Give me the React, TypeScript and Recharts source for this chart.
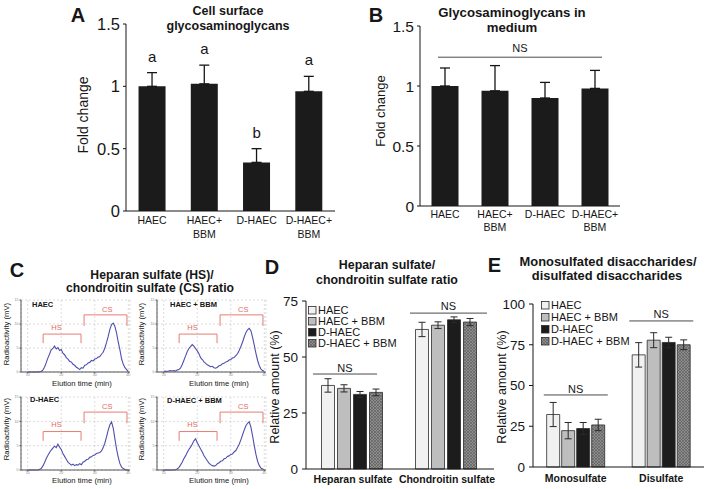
import React from 'react';
import {
  BarChart, Bar, LineChart, Line, XAxis, YAxis, CartesianGrid,
  ErrorBar, ReferenceLine, ReferenceDot,
} from 'recharts';

const FONT = "'Liberation Sans', Arial, Helvetica, sans-serif";
const INK = '#161616';
const RED = '#e46d63';

// A / B: fold change per cell group
const cellGroups = ['HAEC', 'HAEC+ BBM', 'D-HAEC', 'D-HAEC+ BBM'];
const surfaceFold = [1.0, 1.02, 0.39, 0.96];
const surfaceErr = [0.11, 0.15, 0.11, 0.12];
const surfaceLetters = ['a', 'a', 'b', 'a'];
const mediumFold = [1.0, 0.96, 0.9, 0.98];
const mediumErr = [0.15, 0.21, 0.13, 0.15];
const mediumNS = 1.24;
const foldTicks = [0, 0.5, 1, 1.5];

// C: elution profiles (min, mV)
const elutionTimes = [
  10, 10.5, 11, 11.5, 12, 12.5, 13, 13.5, 14, 14.5, 15, 15.5, 16, 16.5, 17, 17.5,
  18, 18.5, 19, 19.5, 20, 20.5, 21, 21.5, 22, 22.5, 23, 23.5, 24, 24.5, 25, 25.5,
  26, 26.5, 27, 27.5, 28, 28.5, 29, 29.5, 30, 30.5, 31, 31.5, 32, 32.5, 33, 33.5,
  34, 34.5, 35, 35.5, 36, 36.5, 37, 37.5, 38, 38.5, 39, 39.5, 40,
];
const haecTrace = [
  0, 0, 0, 0, 0, 0, 0, 0.05, 0.1, 0.4, 1.0, 1.9, 2.9, 3.7, 4.6, 4.9,
  5.4, 4.8, 5.1, 4.5, 4.7, 3.9, 3.6, 3.0, 2.7, 2.2, 2.1, 1.6, 1.4, 1.0, 0.8, 0.5,
  0.9, 0.8, 1.4, 1.5, 1.9, 2.0, 2.4, 2.3, 2.7, 2.8, 3.1, 3.2, 3.7, 4.1, 5.0, 6.1,
  7.4, 8.9, 9.9, 10.2, 9.5, 8.1, 6.2, 4.6, 2.7, 1.6, 0.9, 0.5, 0.1,
];
const haecBbmTrace = [
  0.1, 0.2, 0.1, 0.2, 0.3, 0.2, 0.3, 0.2, 0.4, 0.5, 0.8, 1.5, 2.4, 3.3, 4.2, 4.9,
  5.3, 5.7, 5.4, 4.9, 4.4, 3.8, 3.0, 2.6, 2.1, 1.8, 1.5, 1.3, 1.1, 1.2, 0.9, 0.8,
  1.0, 1.3, 1.4, 1.7, 1.8, 2.1, 2.2, 2.5, 2.6, 2.9, 3.0, 3.4, 3.8, 4.5, 5.3, 6.2,
  7.3, 8.2, 8.8, 9.1, 8.6, 7.2, 5.6, 3.9, 2.4, 1.3, 0.6, 0.3, 0.1,
];
const dHaecTrace = [
  0, 0, 0, 0, 0, 0, 0, 0.1, 0.3, 0.8, 1.5, 2.3, 3.0, 3.6, 4.1, 4.5,
  4.9, 4.6, 5.3, 4.7, 4.2, 3.4, 2.8, 2.2, 1.6, 1.3, 1.0, 1.2, 0.9, 1.1, 1.0, 1.3,
  1.1, 1.6, 1.8, 2.1, 2.2, 2.6, 2.7, 3.0, 3.1, 3.4, 3.5, 3.6, 3.9, 4.6, 5.5, 6.8,
  8.2, 9.3, 9.9, 8.6, 6.4, 4.3, 2.6, 1.3, 0.6, 0.3, 0.1, 0, 0,
];
const dHaecBbmTrace = [
  0, 0, 0, 0, 0, 0, 0, 0.05, 0.2, 0.5, 1.0, 1.6, 2.3, 2.9, 3.6, 4.2,
  4.7, 5.3, 6.0, 6.4, 5.6, 5.0, 4.3, 3.7, 3.0, 2.4, 1.9, 1.4, 1.1, 0.9, 0.8, 0.9,
  1.3, 1.5, 1.8, 1.9, 2.3, 2.4, 2.8, 2.9, 3.2, 3.3, 3.7, 4.0, 4.6, 5.3, 6.2, 7.2,
  8.2, 9.1, 9.6, 9.9, 8.8, 7.0, 5.0, 3.2, 1.8, 0.9, 0.4, 0.2, 0.1,
];
const traceXTicks = [10, 20, 30, 40];
const traceYTicks = [0, 5, 10, 15];
// bracket: from, to, top, foot (min / mV)
const hsBracket = [14.6, 25.9, 7.9, 6.0];
const csBracket = [26.8, 39.6, 11.9, 9.6];
const hsLabelAt = [18.6, 9.4];
const csLabelAt = [33.7, 13.1];

// D / E: relative amounts (%)
const seriesNames = ['HAEC', 'HAEC + BBM', 'D-HAEC', 'D-HAEC + BBM'];
const sulfateTypes = ['Heparan sulfate', 'Chondroitin sulfate'];
const sulfateMeans = [[37.3, 36.0, 33.3, 34.2], [62.3, 64.2, 66.6, 65.6]];
const sulfateErrs = [[3.0, 1.6, 1.3, 1.5], [3.2, 1.5, 1.3, 1.6]];
const sulfateNS = [42.4, 69.6];
const sulfationTypes = ['Monosulfate', 'Disulfate'];
const sulfationMeans = [[32.2, 22.3, 23.6, 25.8], [68.8, 77.8, 76.4, 75.0]];
const sulfationErrs = [[7.4, 5.0, 3.7, 3.5], [7.5, 4.6, 3.2, 3.0]];
const sulfationNS = [44.2, 89.6];

const seriesFills = ['#f1f1f1', '#bebebe', '#1c1c1c', 'url(#gagHatch)'];

function Txt({ x, y, size, bold, rotate, color, anchor, children }: any) {
  const tx = anchor === 'start' ? '0' : '-50%';
  return (
    <div
      style={{
        position: 'absolute', left: x, top: y,
        transform: `translate(${tx},-50%)${rotate ? ` rotate(${rotate}deg)` : ''}`,
        fontSize: size, fontWeight: bold ? 700 : 400, color: color ?? INK,
        whiteSpace: 'nowrap', lineHeight: 1, fontFamily: FONT,
      }}
    >
      {children}
    </div>
  );
}

function GroupTick(props: any) {
  const { x, y, payload, fontSize, lineGap, bold } = props;
  const lines = bold ? [String(payload.value)] : String(payload.value).split(' ');
  return (
    <text x={x} y={y} textAnchor="middle" fontSize={fontSize} fontWeight={bold ? 700 : 400} fill={INK}>
      {lines.map((ln, i) => (
        <tspan key={i} x={x} dy={i === 0 ? fontSize * 0.72 : lineGap}>{ln}</tspan>
      ))}
    </text>
  );
}

const nsShape = (padL: number, padR: number, lift: number) => (p: any) => {
  const x1 = p.x1 - padL;
  const x2 = p.x2 + padR;
  return (
    <g>
      <line x1={x1} x2={x2} y1={p.y1} y2={p.y2} stroke="#4a4a4a" strokeWidth={1} />
      <text x={(x1 + x2) / 2} y={p.y1 - lift} textAnchor="middle" fontSize={11} fill={INK}>NS</text>
    </g>
  );
};

function FoldPanel({ left, top, width, height, yWidth, values, errors, letters, ns, gap, tickFont, tickMargin, lineGap }: any) {
  const data = cellGroups.map((name, i) => ({ name, fold: values[i], err: [0, errors[i]] }));
  return (
    <div style={{ position: 'absolute', left, top, fontFamily: FONT }}>
      <BarChart width={width} height={height} data={data} margin={{ top: 10, right: 2, bottom: 0, left: 0 }} barCategoryGap={gap}>
        <XAxis
          dataKey="name" height={32} interval={0} tickLine={false} tickSize={0} tickMargin={tickMargin}
          stroke={INK} tick={(p: any) => <GroupTick {...p} fontSize={10.5} lineGap={lineGap} />}
        />
        <YAxis domain={[0, 1.5]} ticks={foldTicks} width={yWidth} stroke={INK} tickSize={3} tickMargin={3} tick={{ fill: INK, fontSize: tickFont }} />
        <Bar dataKey="fold" fill="#1b1b1b" isAnimationActive={false}>
          <ErrorBar dataKey="err" width={5} stroke={INK} strokeWidth={1.3} />
        </Bar>
        {letters && data.map((d, i) => (
          <ReferenceDot
            key={d.name} x={d.name} y={values[i] + errors[i]} r={0} fill="none" stroke="none"
            label={{ value: letters[i], position: 'top', offset: 11, fontSize: 15, fill: INK }}
          />
        ))}
        {ns != null && (
          <ReferenceLine
            segment={[{ x: cellGroups[0], y: ns }, { x: cellGroups[3], y: ns }]}
            shape={nsShape(7, 7, 5)} ifOverflow="visible"
          />
        )}
      </BarChart>
    </div>
  );
}

function GroupedPanel({ left, top, width, height, yWidth, cats, means, errs, ns, nsPads, nsLift, yMax, yTicks, gap, barGapPx, tickMargin }: any) {
  const data = cats.map((name: string, c: number) => {
    const row: any = { name };
    seriesNames.forEach((_, s) => {
      row[`m${s}`] = means[c][s];
      row[`e${s}`] = errs[c][s];
    });
    return row;
  });
  return (
    <div style={{ position: 'absolute', left, top, fontFamily: FONT }}>
      <BarChart width={width} height={height} data={data} margin={{ top: 10, right: 2, bottom: 0, left: 0 }} barCategoryGap={gap} barGap={barGapPx}>
        <XAxis
          dataKey="name" height={20} interval={0} tickLine={false} tickSize={0} tickMargin={tickMargin}
          stroke={INK} tick={(p: any) => <GroupTick {...p} fontSize={10.5} bold />}
        />
        <YAxis domain={[0, yMax]} ticks={yTicks} width={yWidth} stroke={INK} tickSize={4} tickMargin={4} tick={{ fill: INK, fontSize: 13.5 }} />
        {seriesNames.map((n, s) => (
          <Bar key={n} dataKey={`m${s}`} name={n} fill={seriesFills[s]} stroke="#2a2a2a" strokeWidth={0.8} isAnimationActive={false}>
            <ErrorBar dataKey={`e${s}`} width={3.5} stroke="#2a2a2a" strokeWidth={1} />
          </Bar>
        ))}
        {cats.map((c: string, i: number) => (
          <ReferenceLine
            key={c} segment={[{ x: c, y: ns[i] }, { x: c, y: ns[i] }]}
            shape={nsShape(nsPads[i][0], nsPads[i][1], nsLift[i])} ifOverflow="visible"
          />
        ))}
      </BarChart>
    </div>
  );
}

function SeriesKey({ left, top, rowH }: any) {
  return (
    <div style={{ position: 'absolute', left, top, fontSize: 11, fontFamily: FONT, color: INK }}>
      {seriesNames.map((n, s) => (
        <div key={n} style={{ display: 'flex', alignItems: 'center', height: rowH, lineHeight: `${rowH}px` }}>
          <svg width={9} height={9} style={{ marginRight: 1 }}>
            <rect x={0.5} y={0.5} width={7.5} height={7.5} fill={seriesFills[s]} stroke="#2a2a2a" strokeWidth={0.8} />
          </svg>
          <span>{n}</span>
        </div>
      ))}
    </div>
  );
}

function bracketLines(b: number[], key: string) {
  const segs = [
    [{ x: b[0], y: b[3] }, { x: b[0], y: b[2] }],
    [{ x: b[0], y: b[2] }, { x: b[1], y: b[2] }],
    [{ x: b[1], y: b[2] }, { x: b[1], y: b[3] }],
  ];
  return segs.map((seg, i) => (
    <ReferenceLine key={`${key}${i}`} segment={seg} stroke={RED} strokeWidth={0.9} ifOverflow="visible" />
  ));
}

function TracePanel({ left, top, height, trace }: any) {
  const data = elutionTimes.map((t, i) => ({ t, v: trace[i] }));
  return (
    <div style={{ position: 'absolute', left, top, fontFamily: FONT }}>
      <LineChart width={133} height={height} data={data} margin={{ top: 10, right: 3, bottom: 0, left: 0 }}>
        <CartesianGrid stroke="#c4c4c4" strokeDasharray="2 2" strokeWidth={0.6} />
        <XAxis type="number" dataKey="t" domain={[8, 40.5]} ticks={traceXTicks} height={10} stroke="#555" tickSize={1.5} tickMargin={0.5} tick={{ fontSize: 3.5, fill: '#888' }} />
        <YAxis domain={[0, 15]} ticks={traceYTicks} width={21} stroke="#555" tickSize={1.5} tickMargin={1} tick={{ fontSize: 3.5, fill: '#888' }} />
        {bracketLines(hsBracket, 'hs')}
        {bracketLines(csBracket, 'cs')}
        <ReferenceDot x={hsLabelAt[0]} y={hsLabelAt[1]} r={0} fill="none" stroke="none" label={{ value: 'HS', position: 'center', fontSize: 7.5, fill: RED }} />
        <ReferenceDot x={csLabelAt[0]} y={csLabelAt[1]} r={0} fill="none" stroke="none" label={{ value: 'CS', position: 'center', fontSize: 7.5, fill: RED }} />
        <Line dataKey="v" type="linear" stroke="#4f4fae" strokeWidth={1.1} dot={false} isAnimationActive={false} />
      </LineChart>
    </div>
  );
}

export default function App() {
  return (
    <div style={{ position: 'absolute', left: 0, top: 0, width: 708, height: 489, background: '#fff', fontFamily: FONT, overflow: 'hidden' }}>
      <svg width={0} height={0} style={{ position: 'absolute' }}>
        <defs>
          <pattern id="gagHatch" width={3} height={3} patternUnits="userSpaceOnUse">
            <rect width={3} height={3} fill="#8c8c8c" />
            <path d="M0,0 L3,3 M3,0 L0,3" stroke="#5a5a5a" strokeWidth={0.6} />
          </pattern>
        </defs>
      </svg>

      {/* A */}
      <Txt x={78} y={15} size={20} bold>A</Txt>
      <Txt x={228} y={11} size={12.5} bold>Cell surface</Txt>
      <Txt x={228} y={26} size={12.5} bold>glycosaminoglycans</Txt>
      <Txt x={83} y={115} size={14} rotate={-90}>Fold change</Txt>
      <FoldPanel
        left={60} top={14} width={277} height={229} yWidth={66}
        values={surfaceFold} errors={surfaceErr} letters={surfaceLetters}
        gap="24%" tickFont={16.5} tickMargin={5} lineGap={14}
      />

      {/* B */}
      <Txt x={376} y={14.5} size={20} bold>B</Txt>
      <Txt x={512} y={13} size={13.2} bold>Glycosaminoglycans in</Txt>
      <Txt x={512} y={28} size={13.2} bold>medium</Txt>
      <Txt x={380} y={111} size={13} rotate={-90}>Fold change</Txt>
      <FoldPanel
        left={360} top={16} width={262} height={222} yWidth={60}
        values={mediumFold} errors={mediumErr} ns={mediumNS}
        gap="23%" tickFont={15.5} tickMargin={4.5} lineGap={13}
      />

      {/* C */}
      <Txt x={17} y={270} size={20} bold>C</Txt>
      <Txt x={152} y={275} size={12.2} bold>Heparan sulfate (HS)/</Txt>
      <Txt x={150} y={288} size={12.2} bold>chondroitin sulfate (CS) ratio</Txt>
      <TracePanel left={0} top={290} height={92} trace={haecTrace} />
      <TracePanel left={136} top={290} height={92} trace={haecBbmTrace} />
      <TracePanel left={0} top={387} height={93} trace={dHaecTrace} />
      <TracePanel left={136} top={387} height={93} trace={dHaecBbmTrace} />
      <Txt x={32} y={305} size={7.5} bold anchor="start">HAEC</Txt>
      <Txt x={170} y={305} size={7.5} bold anchor="start">HAEC + BBM</Txt>
      <Txt x={30} y={400} size={7.5} bold anchor="start">D-HAEC</Txt>
      <Txt x={167} y={401} size={7.5} bold anchor="start">D-HAEC + BBM</Txt>
      <Txt x={7} y={334} size={7.7} rotate={-90}>Radioactivity (mV)</Txt>
      <Txt x={142} y={334} size={7.7} rotate={-90}>Radioactivity (mV)</Txt>
      <Txt x={7} y={429} size={7.7} rotate={-90}>Radioactivity (mV)</Txt>
      <Txt x={142} y={429} size={7.7} rotate={-90}>Radioactivity (mV)</Txt>
      <Txt x={82} y={383.5} size={7.7}>Elution time (min)</Txt>
      <Txt x={219} y={383.5} size={7.7}>Elution time (min)</Txt>
      <Txt x={82} y={481} size={7.7}>Elution time (min)</Txt>
      <Txt x={219} y={481} size={7.7}>Elution time (min)</Txt>

      {/* D */}
      <Txt x={272} y={267} size={20} bold>D</Txt>
      <Txt x={387} y={265} size={12.4} bold>Heparan sulfate/</Txt>
      <Txt x={387} y={280} size={12.4} bold>chondroitin sulfate ratio</Txt>
      <Txt x={275} y={387} size={12.5} rotate={-90}>Relative amount (%)</Txt>
      <GroupedPanel
        left={240} top={291} width={256} height={198} yWidth={66}
        cats={sulfateTypes} means={sulfateMeans} errs={sulfateErrs}
        ns={sulfateNS} nsPads={[[40, 24], [37, 40]]} nsLift={[2, 3]}
        yMax={75} yTicks={[0, 25, 50, 75]} gap="16.5%" barGapPx={3} tickMargin={6}
      />
      <SeriesKey left={308} top={304.5} rowH={11.2} />

      {/* E */}
      <Txt x={494.5} y={264.5} size={20} bold>E</Txt>
      <Txt x={608} y={262} size={12.9} bold>Monosulfated disaccharides/</Txt>
      <Txt x={607} y={276} size={12.9} bold>disulfated disaccharides</Txt>
      <Txt x={502} y={387} size={12.5} rotate={-90}>Relative amount (%)</Txt>
      <GroupedPanel
        left={470} top={294} width={236} height={193} yWidth={63}
        cats={sulfationTypes} means={sulfationMeans} errs={sulfationErrs}
        ns={sulfationNS} nsPads={[[32, 32], [32, 32]]} nsLift={[2, 3]}
        yMax={100} yTicks={[0, 25, 50, 75, 100]} gap="16%" barGapPx={2} tickMargin={7}
      />
      <SeriesKey left={541} top={299} rowH={12} />
    </div>
  );
}
